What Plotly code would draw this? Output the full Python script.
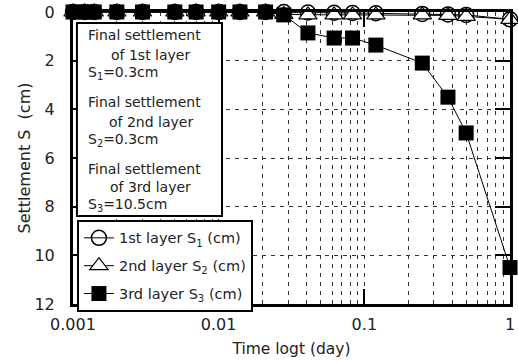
import plotly.graph_objects as go

# Elapsed time (day) for every reading
time_day = [0.001, 0.0012, 0.0014, 0.002, 0.003, 0.005, 0.007, 0.01, 0.014,
            0.021, 0.028, 0.041, 0.062, 0.083, 0.12, 0.25, 0.375, 0.5, 1.0]

# Settlement of each layer (cm)
s1_cm = [0, 0, 0, 0, 0, 0, 0, 0, 0, 0, 0.0, 0.02, 0.03, 0.04, 0.05, 0.08,
         0.1, 0.12, 0.3]
s2_cm = [0, 0, 0, 0, 0, 0, 0, 0, 0, 0, 0.1, 0.12, 0.12, 0.12, 0.12, 0.12,
         0.14, 0.18, 0.3]
s3_cm = [0, 0, 0, 0, 0, 0, 0, 0, 0, 0, 0.12, 0.86, 1.07, 1.07, 1.36, 2.1,
         3.5, 4.97, 10.5]

series_names = ["1st layer S<sub>1</sub> (cm)",
                "2nd layer S<sub>2</sub> (cm)",
                "3rd layer S<sub>3</sub> (cm)"]

# Text block listing the final settlement of each layer
final_layers = ["1st", "2nd", "3rd"]
final_values = ["0.3", "0.3", "10.5"]

y_ticks = [0, 2, 4, 6, 8, 10, 12]
x_ticks = [0.001, 0.01, 0.1, 1]
x_tick_text = ["0.001", "0.01", "0.1", "1"]

FONT = "DejaVu Sans"
TEXT = "#222"
minor_vals = [m * 10 ** e for e in (-3, -2, -1) for m in range(2, 10)]

fig = go.Figure()
fig.add_trace(go.Scatter(
    x=time_day, y=s1_cm, name=series_names[0], mode="lines+markers",
    legendgroup="a", cliponaxis=False,
    line=dict(color="black", width=1),
    marker=dict(symbol="circle-open", size=15, color="black",
                line=dict(width=1.5, color="black")),
))
fig.add_trace(go.Scatter(
    x=time_day, y=s2_cm, name=series_names[1], mode="lines+markers",
    legendgroup="b", cliponaxis=False,
    line=dict(color="black", width=1),
    marker=dict(symbol="triangle-up", size=16, color="white",
                line=dict(width=1.2, color="black")),
))
fig.add_trace(go.Scatter(
    x=time_day, y=s3_cm, name=series_names[2], mode="lines+markers",
    legendgroup="c", cliponaxis=False,
    line=dict(color="black", width=1),
    marker=dict(symbol="square", size=15, color="black",
                line=dict(width=0, color="black")),
))

# Boxed note with final settlements
fig.add_shape(type="rect", xref="paper", yref="paper",
              x0=0.009, x1=0.341, y0=0.301, y1=0.962,
              line=dict(color="black", width=2), fillcolor="white", layer="above")

group_rows = [(0.921, 0.852, 0.792), (0.692, 0.623, 0.563), (0.462, 0.400, 0.340)]
note_font = dict(family=FONT, size=14, color=TEXT)
for rows, layer, val, idx in zip(group_rows, final_layers, final_values, range(1, 4)):
    fig.add_annotation(x=0.030, y=rows[0], xref="paper", yref="paper",
                       text="Final settlement", showarrow=False,
                       xanchor="left", yanchor="middle", font=note_font)
    fig.add_annotation(x=0.178, y=rows[1], xref="paper", yref="paper",
                       text="of " + layer + " layer", showarrow=False,
                       xanchor="center", yanchor="middle", font=note_font)
    fig.add_annotation(x=0.030, y=rows[2], xref="paper", yref="paper",
                       text="S<sub>%d</sub>=%scm" % (idx, val), showarrow=False,
                       xanchor="left", yanchor="middle", font=note_font)

grid_style = dict(gridcolor="#333", gridwidth=1, griddash="4px,5px")

fig.update_layout(
    width=518, height=362,
    margin=dict(l=73, r=8, t=12, b=58, autoexpand=False),
    paper_bgcolor="white", plot_bgcolor="white",
    font=dict(family=FONT, size=14, color=TEXT),
    showlegend=True,
    legend=dict(x=0.009, y=0.288, xanchor="left", yanchor="top",
                bgcolor="white", bordercolor="black", borderwidth=2,
                font=dict(family=FONT, size=14.5, color=TEXT),
                traceorder="grouped", tracegroupgap=6, itemwidth=30),
    xaxis=dict(
        type="log", range=[-3, 0], automargin=False,
        tickvals=x_ticks, ticktext=x_tick_text,
        ticks="inside", ticklen=15, tickwidth=2, tickcolor="black",
        showline=True, linewidth=3, linecolor="black", mirror="ticks",
        showgrid=True, **grid_style,
        minor=dict(tickvals=minor_vals, showgrid=True, ticks="", **grid_style),
        title=dict(text="Time logt (day)", font=dict(family=FONT, size=15.5),
                   standoff=10),
        tickfont=dict(family=FONT, size=16),
        ticklabelstandoff=4,
        zeroline=False,
    ),
    yaxis=dict(
        range=[12, 0], tickvals=y_ticks, automargin=False,
        ticks="inside", ticklen=15, tickwidth=2, tickcolor="black",
        showline=True, linewidth=3, linecolor="black", mirror="ticks",
        showgrid=True, **grid_style,
        title=dict(text="Settlement S  (cm)", font=dict(family=FONT, size=16),
                   standoff=0),
        tickfont=dict(family=FONT, size=16),
        ticklabelstandoff=12,
        zeroline=False,
    ),
)

fig.write_html("out.html")
